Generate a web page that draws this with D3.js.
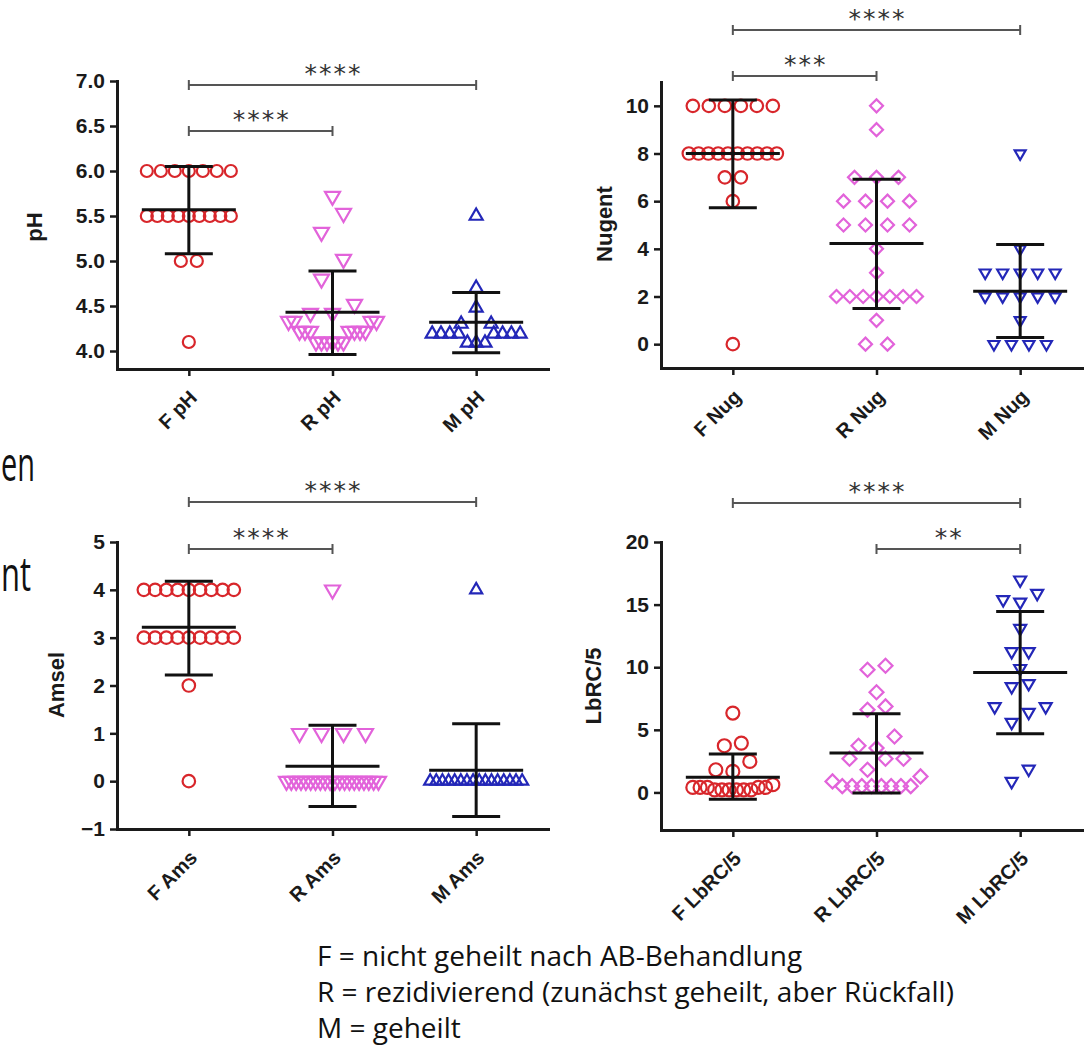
<!DOCTYPE html>
<html>
<head>
<meta charset="utf-8">
<script src="https://cdn.jsdelivr.net/npm/d3@7"></script>
<style>
    html, body { margin: 0; padding: 0; background: #fff; }
    svg { display: block; }
</style>
</head>
<body>
<svg id="chart" width="1084" height="1051"></svg>
<script>
// ---------- data ----------
const phLabels = ['F pH', 'R pH', 'M pH'];
const phTicks = [4.0, 4.5, 5.0, 5.5, 6.0, 6.5, 7.0];
const phF = [6.0, 6.0, 6.0, 6.0, 6.0, 6.0, 6.0, 5.5, 5.5, 5.5, 5.5, 5.5, 5.5, 5.5, 5.5, 5.5, 5.0, 5.0, 4.1];
const phR = [5.72, 5.53, 5.32, 5.02, 4.8, 4.52, 4.42, 4.42, 4.33, 4.33, 4.33, 4.33, 4.22, 4.22, 4.22, 4.22, 4.22, 4.22, 4.22, 4.1, 4.1, 4.1, 4.1, 4.1, 4.1];
const phM = [5.5, 4.7, 4.48, 4.3, 4.3, 4.19, 4.19, 4.19, 4.19, 4.19, 4.19, 4.19, 4.19, 4.09, 4.09, 4.09];
const phMean = [5.57, 4.43, 4.32];
const phUpper = [6.05, 4.89, 4.65];
const phLower = [5.08, 3.96, 3.98];
const phSig = [[0, 1, '****'], [0, 2, '****']];

const nugLabels = ['F Nug', 'R Nug', 'M Nug'];
const nugTicks = [0, 2, 4, 6, 8, 10];
const nugF = [10, 10, 10, 10, 10, 10, 8, 8, 8, 8, 8, 8, 8, 8, 8, 8, 7, 7, 6, 0];
const nugR = [10, 9, 7, 7, 7, 6, 6, 6, 6, 5, 5, 5, 5, 4, 3, 2, 2, 2, 2, 2, 2, 2, 1, 0, 0];
const nugM = [8, 4, 3, 3, 3, 3, 3, 2, 2, 2, 2, 2, 1, 0, 0, 0, 0];
const nugMean = [8.0, 4.22, 2.22];
const nugUpper = [10.25, 6.92, 4.18];
const nugLower = [5.72, 1.5, 0.28];
const nugSig = [[0, 1, '***'], [0, 2, '****']];

const amsLabels = ['F Ams', 'R Ams', 'M Ams'];
const amsTicks = [-1, 0, 1, 2, 3, 4, 5];
const amsF = [4, 4, 4, 4, 4, 4, 4, 4, 4, 3, 3, 3, 3, 3, 3, 3, 3, 3, 2, 0];
const amsR = [4, 1, 1, 1, 1, 0, 0, 0, 0, 0, 0, 0, 0, 0, 0, 0, 0, 0, 0, 0, 0, 0, 0, 0, 0];
const amsM = [4, 0, 0, 0, 0, 0, 0, 0, 0, 0, 0, 0, 0, 0, 0, 0, 0];
const amsMean = [3.22, 0.31, 0.23];
const amsUpper = [4.18, 1.17, 1.2];
const amsLower = [2.22, -0.53, -0.74];
const amsSig = [[0, 1, '****'], [0, 2, '****']];

const lbLabels = ['F LbRC/5', 'R LbRC/5', 'M LbRC/5'];
const lbTicks = [0, 5, 10, 15, 20];
const lbF = [6.34, 3.94, 3.73, 2.48, 1.81, 1.68, 0.62, 0.4, 0.4, 0.4, 0.4, 0.4, 0.2, 0.2, 0.2, 0.2, 0.2, 0.2];
const lbR = [10.12, 9.8, 8.0, 6.87, 6.6, 4.47, 3.73, 3.54, 2.69, 2.69, 2.69, 1.81, 1.28, 0.88, 0.5, 0.5, 0.5, 0.5, 0.5, 0.5, 0.5, 0.5];
const lbM = [16.97, 15.9, 15.4, 15.2, 13.1, 11.25, 11.25, 9.9, 8.7, 8.46, 6.86, 6.86, 6.4, 5.6, 1.86, 0.88];
const lbMean = [1.22, 3.14, 9.57];
const lbUpper = [3.06, 6.28, 14.45];
const lbLower = [-0.55, -0.05, 4.68];
const lbSig = [[1, 2, '**'], [0, 2, '****']];

const legendLines = [
    'F = nicht geheilt nach AB-Behandlung',
    'R = rezidivierend (zunächst geheilt, aber Rückfall)',
    'M = geheilt'
];
const sideWords = ['en', 'nt'];

// ---------- layout ----------
const colors = ['#d8262b', '#e263da', '#2327b8'];
const boldFont = '"Liberation Sans", Arial, sans-serif';

const panels = [
    {title: 'pH', cats: phLabels, ticks: phTicks, fmt: '.1f', series: [phF, phR, phM],
     mean: phMean, upper: phUpper, lower: phLower, sig: phSig,
     xRange: [117, 548], domain: [3.8, 7.0], yRange: [369, 81], titleAt: [36, 227], sigY: [131, 85],
     shapes: ['circle', 'down', 'up'], sizes: [12, 15, 13], slots: [16, 22, 30], half: [42, 44, 44], bin: [22, 22, 16]},
    {title: 'Nugent', cats: nugLabels, ticks: nugTicks, fmt: 'd', series: [nugF, nugR, nugM],
     mean: nugMean, upper: nugUpper, lower: nugLower, sig: nugSig,
     xRange: [661, 1092], domain: [-1, 11], yRange: [368, 82], titleAt: [606, 224], sigY: [76, 30],
     shapes: ['circle', 'diamond', 'down'], sizes: [12.5, 13, 11], slots: [16, 22, 17.5], half: [44, 40, 44], bin: [16, 16, 16]},
    {title: 'Amsel', cats: amsLabels, ticks: amsTicks, fmt: 'd', series: [amsF, amsR, amsM],
     mean: amsMean, upper: amsUpper, lower: amsLower, sig: amsSig,
     xRange: [117, 548], domain: [-1, 5], yRange: [829, 542], titleAt: [58, 685], sigY: [549, 502],
     shapes: ['circle', 'down', 'up'], sizes: [12.5, 15, 12], slots: [15, 22, 17], half: [45, 46, 46], bin: [16, 16, 16]},
    {title: 'LbRC/5', cats: lbLabels, ticks: lbTicks, fmt: 'd', series: [lbF, lbR, lbM],
     mean: lbMean, upper: lbUpper, lower: lbLower, sig: lbSig,
     xRange: [661, 1092], domain: [-3, 20], yRange: [830, 542], titleAt: [595, 686], sigY: [549, 503],
     shapes: ['circle', 'diamond', 'down'], sizes: [13, 14, 12], slots: [17, 18, 17], half: [40, 44, 44], bin: [16, 16, 16]}
];

// horizontal offsets like a GraphPad scatter dot plot: close values share a row,
// lowest values in the middle, the rest pushed outwards
function spread(vals, y, bin, slot, half) {
    const sorted = vals.map((v, i) => ({v: v, i: i})).sort((a, b) => a.v - b.v);
    const out = new Array(vals.length);
    let k = 0;
    while (k < sorted.length) {
        const start = y(sorted[k].v);
        let j = k;
        while (j < sorted.length && Math.abs(y(sorted[j].v) - start) < bin) j++;
        const n = j - k;
        const step = n > 1 ? Math.min(slot, 2 * half / (n - 1)) : 0;
        const pos = [];
        if (n % 2) {
            pos.push(0);
            for (let s = 1; pos.length < n; s++) { pos.push(-s); if (pos.length < n) pos.push(s); }
        } else {
            for (let s = 0.5; pos.length < n; s++) { pos.push(-s); pos.push(s); }
        }
        for (let m = k; m < j; m++) out[sorted[m].i] = pos[m - k] * step;
        k = j;
    }
    return out;
}

function symbolPath(shape, w) {
    if (shape === 'circle') return d3.symbol(d3.symbolCircle, Math.PI * (w / 2) * (w / 2))();
    if (shape === 'diamond') return d3.symbol(d3.symbolSquare, (w / Math.SQRT2) * (w / Math.SQRT2))();
    return d3.symbol(d3.symbolTriangle, Math.sqrt(3) / 4 * w * w)();
}
function symbolRotate(shape) {
    if (shape === 'down') return ' rotate(180)';
    if (shape === 'diamond') return ' rotate(45)';
    return '';
}

const svg = d3.select('#chart');

panels.forEach(function (p) {
    const y = d3.scaleLinear().domain(p.domain).range(p.yRange);
    const x = d3.scalePoint().domain(p.cats).range(p.xRange).padding(0.5);
    const g = svg.append('g').attr('class', 'panel');

    // points
    p.series.forEach(function (vals, gi) {
        const off = spread(vals, y, p.bin[gi], p.slots[gi], p.half[gi]);
        const cx = x(p.cats[gi]);
        g.append('g').selectAll('path')
            .data(vals).enter().append('path')
            .attr('d', symbolPath(p.shapes[gi], p.sizes[gi]))
            .attr('transform', (d, i) => `translate(${cx + off[i]},${y(d)})` + symbolRotate(p.shapes[gi]))
            .attr('fill', 'none')
            .attr('stroke', colors[gi])
            .attr('stroke-width', 2.2);
    });

    // mean +- SD
    const eb = g.append('g').attr('stroke', '#111').attr('stroke-width', 3).attr('fill', 'none');
    p.cats.forEach(function (c, gi) {
        const cx = x(c);
        eb.append('line').attr('x1', cx).attr('x2', cx).attr('y1', y(p.lower[gi])).attr('y2', y(p.upper[gi]));
        eb.append('line').attr('x1', cx - 24).attr('x2', cx + 24).attr('y1', y(p.upper[gi])).attr('y2', y(p.upper[gi]));
        eb.append('line').attr('x1', cx - 24).attr('x2', cx + 24).attr('y1', y(p.lower[gi])).attr('y2', y(p.lower[gi]));
        eb.append('line').attr('x1', cx - 47).attr('x2', cx + 47).attr('y1', y(p.mean[gi])).attr('y2', y(p.mean[gi]));
    });

    // axes
    const ya = g.append('g')
        .attr('transform', `translate(${p.xRange[0]},0)`)
        .call(d3.axisLeft(y).tickValues(p.ticks).tickFormat(d3.format(p.fmt)).tickSize(7).tickSizeOuter(0).tickPadding(5));
    const xa = g.append('g')
        .attr('transform', `translate(0,${p.yRange[0]})`)
        .call(d3.axisBottom(x).tickSize(7).tickSizeOuter(0));
    [ya, xa].forEach(function (a) {
        a.select('.domain').attr('stroke', '#1a1a1a').attr('stroke-width', 3).attr('stroke-linecap', 'square');
        a.selectAll('.tick line').attr('stroke', '#1a1a1a').attr('stroke-width', 2.5);
        a.selectAll('.tick text')
            .attr('fill', '#1a1a1a')
            .style('font-family', boldFont)
            .style('font-weight', 'bold')
            .style('font-size', '21px');
    });
    xa.selectAll('.tick text')
        .attr('x', 0).attr('y', 0).attr('dy', 0)
        .style('font-size', '20px')
        .attr('text-anchor', 'end')
        .attr('transform', 'translate(9,30) rotate(-45)');

    // axis title
    g.append('text')
        .attr('transform', `translate(${p.titleAt[0]},${p.titleAt[1]}) rotate(-90)`)
        .attr('text-anchor', 'middle')
        .attr('dominant-baseline', 'middle')
        .style('font-family', boldFont)
        .style('font-weight', 'bold')
        .style('font-size', '22px')
        .attr('fill', '#1a1a1a')
        .text(p.title);

    // significance brackets
    p.sig.forEach(function (s, si) {
        const x1 = x(p.cats[s[0]]), x2 = x(p.cats[s[1]]), sy = p.sigY[si];
        g.append('path')
            .attr('d', `M${x1},${sy - 5}V${sy + 5}M${x1},${sy}H${x2}M${x2},${sy - 5}V${sy + 5}`)
            .attr('fill', 'none')
            .attr('stroke', '#555')
            .attr('stroke-width', 2);
        g.append('text')
            .attr('x', (x1 + x2) / 2 + 1)
            .attr('y', sy - 3)
            .attr('text-anchor', 'middle')
            .style('font-family', '"DejaVu Sans", sans-serif')
            .style('font-size', '25px')
            .style('letter-spacing', '2px')
            .attr('fill', '#333')
            .text(s[2]);
    });
});

// legend text under the charts
svg.append('g').selectAll('text')
    .data(legendLines).enter().append('text')
    .attr('x', 317)
    .attr('y', (d, i) => 966 + i * 36)
    .style('font-family', '"Open Sans", "Noto Sans", sans-serif')
    .style('font-size', '28px')
    .attr('fill', '#111')
    .text(d => d);

// slide words at the left edge (the reference shows only their last letters)
svg.append('g').selectAll('text')
    .data(sideWords).enter().append('text')
    .attr('x', 1)
    .attr('y', (d, i) => 481 + i * 110)
    .attr('textLength', (d, i) => i === 0 ? 34 : 30)
    .attr('lengthAdjust', 'spacingAndGlyphs')
    .style('font-family', '"Open Sans", "Noto Sans", sans-serif')
    .style('font-size', '48px')
    .attr('fill', '#111')
    .text(d => d);
</script>
</body>
</html>
